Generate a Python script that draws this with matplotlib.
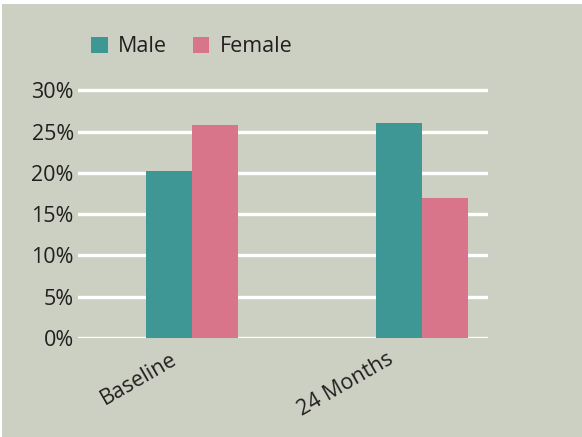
import matplotlib
matplotlib.use("Agg")
import matplotlib.pyplot as plt
import matplotlib.transforms as mtransforms
from matplotlib.patches import Rectangle
import numpy as np

categories = ["Baseline", "24 Months"]
male = [20.2, 26.0]
female = [25.8, 16.9]
yticks = [0, 5, 10, 15, 20, 25, 30]
ytick_labels = ["0%", "5%", "10%", "15%", "20%", "25%", "30%"]

BG = "#CCD0C2"
TEAL = "#3F9795"
PINK = "#D8758B"
TXT = "#231F20"

plt.rcParams['font.family'] = ['Open Sans', 'DejaVu Sans']

W, H = 582, 437
fig = plt.figure(figsize=(W / 100, H / 100), dpi=100)
fig.patch.set_facecolor("white")
fig.patches.append(Rectangle((2 / W, 0), 1, 1 - 4 / H, transform=fig.transFigure,
                             facecolor=BG, edgecolor="none", zorder=-10))

y0px, ytoppx = 338, 82
ax = fig.add_axes([78 / W, (H - y0px) / H, (488 - 78) / W, (y0px - ytoppx) / H])
ax.set_facecolor("none")
x = np.arange(len(categories))
bw = 0.2
ax.bar(x - bw / 2, male, bw, color=TEAL, label="Male", zorder=3)
ax.bar(x + bw / 2, female, bw, color=PINK, label="Female", zorder=3)
ax.set_xlim(-0.496, 1.287)
ax.set_ylim(0, 31)
ax.set_yticks(yticks)
ax.set_yticklabels(ytick_labels)
ax.yaxis.grid(True, color="white", linewidth=2.4, zorder=1)
ax.set_axisbelow(True)
for s in ax.spines.values():
    s.set_visible(False)
ax.tick_params(axis="both", length=0, labelsize=15.5, labelcolor=TXT)
ax.tick_params(axis="y", pad=3)
ax.set_xticks(x)
ax.set_xticklabels(categories, rotation=30, ha="right", va="top", rotation_mode="anchor")
offsets = [-22, -35]
for lab, dx in zip(ax.get_xticklabels(), offsets):
    lab.set_transform(lab.get_transform() + mtransforms.ScaledTranslation(dx / 100, -6 / 100, fig.dpi_scale_trans))

ax.legend(loc="upper left", bbox_to_anchor=(72 / W, 1 - 17 / H), bbox_transform=fig.transFigure,
          ncol=2, frameon=False, fontsize=15.5, handlelength=0.75, handleheight=0.75,
          handletextpad=0.5, columnspacing=1.2, labelcolor=TXT)

fig.savefig("out.png", dpi=100, facecolor=fig.get_facecolor())
